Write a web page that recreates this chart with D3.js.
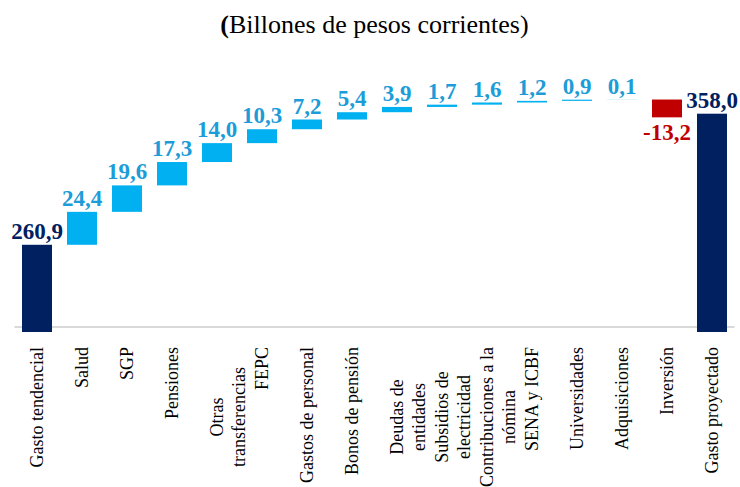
<!DOCTYPE html>
<html>
<head>
<meta charset="utf-8">
<script src="https://cdn.jsdelivr.net/npm/d3@7"></script>
<style>
  body { margin: 0; background: #fff; }
</style>
</head>
<body>
<svg id="chart"></svg>
<script>
// Waterfall data (billones de pesos corrientes)
const categories = [
  'Gasto tendencial', 'Salud', 'SGP', 'Pensiones', 'Otras\ntransferencias', 'FEPC',
  'Gastos de personal', 'Bonos de pensión', 'Deudas de\nentidades', 'Subsidios de\nelectricidad',
  'Contribuciones a la\nnómina', 'SENA y ICBF', 'Universidades', 'Adquisiciones', 'Inversión',
  'Gasto proyectado'
];
const values = [260.9, 24.4, 19.6, 17.3, 14.0, 10.3, 7.2, 5.4, 3.9, 1.7, 1.6, 1.2, 0.9, 0.1, -13.2, 358.0];
const barTypes = ['total', 'up', 'up', 'up', 'up', 'up', 'up', 'up', 'up', 'up', 'up', 'up', 'up', 'up', 'down', 'total'];
const yDomain = [200, 380];
const subtitle = 'Billones de pesos corrientes';

const FONT = "'Liberation Serif'";

class WaterfallChart {
  constructor(_config, _data) {
    this.config = {
      parentElement: _config.parentElement,
      containerWidth: _config.containerWidth || 740,
      containerHeight: _config.containerHeight || 487,
      margin: {top: 84, right: 5.5, bottom: 160, left: 14.5}
    }
    this.data = _data;
    this.initVis();
  }

  initVis() {
    let vis = this;

    vis.width = vis.config.containerWidth - vis.config.margin.left - vis.config.margin.right;
    vis.height = vis.config.containerHeight - vis.config.margin.top - vis.config.margin.bottom;

    vis.svg = d3.select(vis.config.parentElement)
      .attr('width', vis.config.containerWidth)
      .attr('height', vis.config.containerHeight)
      .style('display', 'block');

    vis.chart = vis.svg.append('g')
      .attr('transform', `translate(${vis.config.margin.left}, ${vis.config.margin.top})`);

    vis.xScale = d3.scaleBand()
      .domain(vis.data.map(d => d.category))
      .range([0, vis.width])
      .paddingInner(1 / 3)
      .paddingOuter(1 / 6);

    vis.yScale = d3.scaleLinear()
      .domain(yDomain)
      .range([vis.height, 0]);

    vis.colors = {total: '#002060', up: '#00B0F0', down: '#C00000'};
    vis.labelColors = {total: '#002060', up: '#1C9CD8', down: '#C00000'};

    const locale = d3.formatLocale({decimal: ',', thousands: '.', grouping: [3], currency: ['$', ''], minus: '-'});
    vis.fmt = locale.format('.1f');

    // subtitle
    const sub = vis.svg.append('text')
      .attr('x', 374.5)
      .attr('y', 33)
      .attr('text-anchor', 'middle')
      .style('font-family', FONT)
      .style('font-size', '26px')
      .attr('fill', '#000');
    sub.append('tspan').style('font-weight', 'bold').text('(');
    sub.append('tspan').text(subtitle + ')');

    // base line
    vis.chart.append('line')
      .attr('x1', 0)
      .attr('x2', vis.width)
      .attr('y1', vis.height)
      .attr('y2', vis.height)
      .attr('stroke', '#d9d9d9')
      .attr('stroke-width', 2);

    vis.updateVis();
  }

  updateVis() {
    let vis = this;
    let running = 0;
    vis.data.forEach(d => {
      if (d.type === 'total') {
        d.start = yDomain[0];
        d.end = d.value;
        running = d.value;
      } else {
        d.start = running;
        d.end = running + d.value;
        running = d.end;
      }
    });
    vis.renderVis();
  }

  renderVis() {
    let vis = this;
    const overhang = 5;

    vis.chart.selectAll('.bar')
      .data(vis.data)
      .join('rect')
      .attr('class', 'bar')
      .attr('x', d => vis.xScale(d.category))
      .attr('width', vis.xScale.bandwidth())
      .attr('y', d => vis.yScale(Math.max(d.start, d.end)))
      .attr('height', d => Math.abs(vis.yScale(d.start) - vis.yScale(d.end)) + (d.type === 'total' ? overhang : 0))
      .attr('fill', d => vis.colors[d.type]);

    // value labels
    vis.chart.selectAll('.value-label')
      .data(vis.data)
      .join('text')
      .attr('class', 'value-label')
      .attr('x', d => vis.xScale(d.category) + vis.xScale.bandwidth() / 2)
      .attr('y', d => d.type === 'down'
        ? vis.yScale(Math.min(d.start, d.end)) + 23
        : vis.yScale(Math.max(d.start, d.end)) - 6)
      .attr('text-anchor', 'middle')
      .style('font-family', FONT)
      .style('font-size', '23px')
      .style('font-weight', 'bold')
      .attr('fill', d => vis.labelColors[d.type])
      .text(d => vis.fmt(d.value));

    // category labels, rotated
    const cat = vis.chart.selectAll('.cat-label')
      .data(vis.data)
      .join('g')
      .attr('class', 'cat-label')
      .attr('transform', d => `translate(${vis.xScale(d.category) + vis.xScale.bandwidth() / 2},0)`);

    cat.each(function(d) {
      const lines = d.category.split('\n');
      const g = d3.select(this);
      lines.forEach((line, i) => {
        const multi = lines.length > 1;
        g.append('text')
          .attr('transform', `translate(${i * 22},${multi ? vis.height + 90 : vis.height + 20}) rotate(-90)`)
          .attr('dy', '0.35em')
          .attr('text-anchor', multi ? 'middle' : 'end')
          .style('font-family', FONT)
          .style('font-size', '18px')
          .attr('fill', '#000')
          .text(line);
      });
    });
  }
}

const data = categories.map((c, i) => ({category: c, value: values[i], type: barTypes[i]}));
new WaterfallChart({parentElement: '#chart'}, data);
</script>
</body>
</html>
